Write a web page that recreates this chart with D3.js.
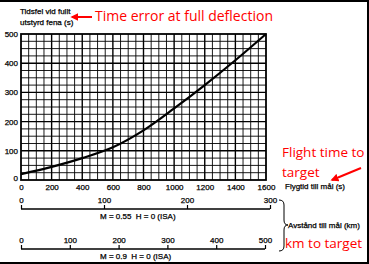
<!DOCTYPE html>
<html>
<head>
<meta charset="utf-8">
<script src="https://cdn.jsdelivr.net/npm/d3@7"></script>
<style>
  body { margin: 0; background: #fff; }
  svg { display: block; }
  .lbl { stroke: #000; stroke-width: 0.25px; }
</style>
</head>
<body>
<div id="wrapper"></div>
<script>
// flight time (s) vs time error at full deflection (s)
const flightTime = [0, 200, 400, 600, 800, 1000, 1200, 1400, 1600]
const timeError = [20, 45, 75, 112, 170, 245, 325, 410, 500]

const xTicks = [0, 200, 400, 600, 800, 1000, 1200, 1400, 1600]
const yTicks = [0, 100, 200, 300, 400, 500]
const distTicks055 = [0, 100, 200, 300]
const distTicks09 = [0, 100, 200, 300, 400, 500]

const width = 369
const height = 264

const svg = d3.select("#wrapper")
    .append("svg")
    .attr("width", width)
    .attr("height", height)
    .style("font-family", "'Liberation Sans', Arial, sans-serif")

// frame of the picture
svg.append("path")
    .attr("d", `M0,1 H${width - 1} V${height - 1} H0`)
    .attr("fill", "none")
    .attr("stroke", "#000")
    .attr("stroke-width", 2)

const plot = { left: 21, right: 266, top: 34, bottom: 180 }

const x = d3.scaleLinear().domain([0, 1600]).range([plot.left, plot.right])
const y = d3.scaleLinear().domain([0, 500]).range([plot.bottom, plot.top])

// grid
const grid = svg.append("g")
grid.selectAll(".vx")
    .data(d3.range(50, 1600, 50))
    .join("line")
    .attr("x1", d => x(d)).attr("x2", d => x(d))
    .attr("y1", plot.top).attr("y2", plot.bottom)
    .attr("stroke", "#000")
    .attr("stroke-width", d => d % 200 === 0 ? 1.4 : 0.9)
grid.selectAll(".hy")
    .data(d3.range(25, 500, 25))
    .join("line")
    .attr("y1", d => y(d)).attr("y2", d => y(d))
    .attr("x1", plot.left).attr("x2", plot.right)
    .attr("stroke", "#000")
    .attr("stroke-width", d => d % 100 === 0 ? 1.4 : 0.9)

svg.append("rect")
    .attr("x", plot.left).attr("y", plot.top)
    .attr("width", plot.right - plot.left)
    .attr("height", plot.bottom - plot.top)
    .attr("fill", "none")
    .attr("stroke", "#000")
    .attr("stroke-width", 1.8)

// curve
const line = d3.line()
    .x((d, i) => x(flightTime[i]))
    .y(d => y(d))
    .curve(d3.curveMonotoneX)
svg.append("path")
    .attr("d", line(timeError))
    .attr("fill", "none")
    .attr("stroke", "#000")
    .attr("stroke-width", 2.2)

// axes
const xAxis = svg.append("g")
    .attr("transform", `translate(0,${plot.bottom})`)
    .call(d3.axisBottom(x).tickValues(xTicks).tickFormat(d3.format("d")).tickSize(0).tickPadding(4))
xAxis.select(".domain").remove()
xAxis.selectAll("text").attr("font-size", 8).attr("fill", "#000").attr("class", "lbl")
    .attr("font-family", "'Liberation Sans', Arial, sans-serif")

const yAxis = svg.append("g")
    .attr("transform", `translate(${plot.left},0)`)
    .call(d3.axisLeft(y).tickValues(yTicks).tickSize(0).tickPadding(3))
yAxis.select(".domain").remove()
yAxis.selectAll("text").attr("font-size", 8).attr("fill", "#000").attr("class", "lbl")
    .attr("font-family", "'Liberation Sans', Arial, sans-serif")
yAxis.selectAll(".tick").filter(d => d === 0).select("text").attr("dy", "0.1em")

const labels = svg.append("g").attr("class", "lbl").attr("font-size", 8)
labels.append("text").attr("x", 20).attr("y", 14).text("Tidsfel vid fullt")
labels.append("text").attr("x", 20).attr("y", 25).text("utstyrd fena (s)")
labels.append("text").attr("x", 285).attr("y", 189).text("Flygtid till mål (s)")
labels.append("text").attr("x", 288).attr("y", 228).text("Avstånd till mål (km)")

// distance scales
function distScale(ticks, maxKm, endX, lineY, label) {
    const s = d3.scaleLinear().domain([0, maxKm]).range([plot.left, endX])
    const g = svg.append("g").attr("transform", `translate(0,${lineY})`)
    const ax = g.call(d3.axisTop(s).tickValues(ticks).tickSize(4).tickPadding(2))
    ax.select(".domain").attr("d", `M${s(0)},0H${s(maxKm)}`).attr("stroke-width", 1.5)
    ax.selectAll(".tick line").attr("stroke-width", 1.2)
    ax.selectAll("text").attr("font-size", 8).attr("fill", "#000").attr("class", "lbl")
        .attr("font-family", "'Liberation Sans', Arial, sans-serif")
    labels.append("text")
        .attr("x", 100).attr("y", lineY + 10)
        .attr("xml:space", "preserve")
        .text(label)
}
distScale(distTicks055, 300, 270, 209, "M = 0.55  H = 0 (ISA)")
distScale(distTicks09, 500, 265, 249, "M = 0.9  H = 0 (ISA)")

// brace
svg.append("path")
    .attr("d", "M279,200 Q284,200 284,205 V220 Q284,225 288,225 Q284,225 284,230 V246 Q284,251 279,251")
    .attr("fill", "none")
    .attr("stroke", "#000")
    .attr("stroke-width", 1)

// red annotations
const red = "#ff0000"
const ann = svg.append("g")
    .attr("fill", red)
    .attr("font-family", "'Open Sans', sans-serif")
    .attr("font-size", 13.5)
ann.append("text").attr("x", 95).attr("y", 21).attr("font-size", 14).text("Time error at full deflection")
ann.append("text").attr("x", 282).attr("y", 157).text("Flight time to")
ann.append("text").attr("x", 282).attr("y", 177).text("target")
ann.append("text").attr("x", 285).attr("y", 248).text("km to target")

svg.append("defs").append("marker")
    .attr("id", "head")
    .attr("viewBox", "0 0 10 10")
    .attr("refX", 8).attr("refY", 5)
    .attr("markerWidth", 4).attr("markerHeight", 4)
    .attr("orient", "auto")
    .append("path")
    .attr("d", "M0,0 L10,5 L0,10 z")
    .attr("fill", red)

svg.append("line")
    .attr("x1", 92).attr("y1", 17).attr("x2", 72).attr("y2", 17)
    .attr("stroke", red).attr("stroke-width", 2)
    .attr("marker-end", "url(#head)")
svg.append("line")
    .attr("x1", 361).attr("y1", 168).attr("x2", 332).attr("y2", 180)
    .attr("stroke", red).attr("stroke-width", 2)
    .attr("marker-end", "url(#head)")
</script>
</body>
</html>
